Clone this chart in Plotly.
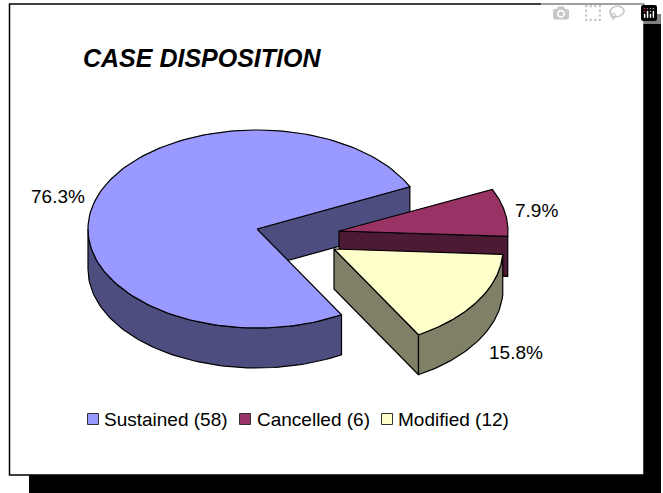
import numpy as np
import plotly.graph_objects as go

# data
categories = ["Sustained (58)", "Cancelled (6)", "Modified (12)"]
values = [58, 6, 12]
pct_labels = ["76.3%", "7.9%", "15.8%"]
top_colors = ["#9999FF", "#993366", "#FFFFCC"]
side_colors = ["#4D4D80", "#4D1A33", "#808066"]

# pie geometry, in page pixels
FIRST_ANGLE = 150   # clockwise from north
RX, RY, DEPTH = 169, 99, 40
centers = [(257, 229), (339, 231), (334, 249)]
label_pos = [(58, 196), (536, 210), (516, 352)]
legend_pos = [(93, 419), (245, 419), (387, 419)]
legend_text_x = [104, 257, 398]


def arc(cx, cy, a0, a1, n=80):
    t = np.radians(np.linspace(a0, a1, n))
    return cx + RX * np.sin(t), cy - RY * np.cos(t)


def poly(fig, xs, ys, color):
    fig.add_trace(go.Scatter(x=list(xs) + [xs[0]], y=list(ys) + [ys[0]], mode="lines", fill="toself",
                             fillcolor=color, line=dict(color="black", width=1.2),
                             hoverinfo="skip", showlegend=False))


def top_face(fig, i, a0, a1):
    cx, cy = centers[i]
    x, y = arc(cx, cy, a0, a1, 160)
    poly(fig, [cx] + list(x), [cy] + list(y), top_colors[i])


def cut_face(fig, i, a):
    cx, cy = centers[i]
    x, y = arc(cx, cy, a, a, 1)
    poly(fig, [cx, x[0], x[0], cx], [cy, y[0], y[0] + DEPTH, cy + DEPTH], side_colors[i])


def rim_face(fig, i, a0, a1):
    x, y = arc(*centers[i], a0, a1)
    poly(fig, list(x) + list(x[::-1]), list(y) + list(y[::-1] + DEPTH), side_colors[i])


# slice angles from the values
total = sum(values)
edges = [FIRST_ANGLE]
for v in values:
    edges.append(edges[-1] + v / total * 360)

fig = go.Figure()

# blue slice: rim from its start round to the left side, then the inner cut
rim_face(fig, 0, edges[0], 270)
cut_face(fig, 0, edges[1])
top_face(fig, 0, edges[0], edges[1])

# cancelled slice
cut_face(fig, 1, edges[2])
top_face(fig, 1, edges[1], edges[2])

# modified slice
cut_face(fig, 2, edges[3])
rim_face(fig, 2, edges[2], edges[3])
top_face(fig, 2, edges[2], edges[3])

# legend swatches
for i, name in enumerate(categories):
    fig.add_trace(go.Scatter(x=[legend_pos[i][0]], y=[legend_pos[i][1]], mode="markers", name=name,
                             marker=dict(symbol="square", size=11, color=top_colors[i],
                                         line=dict(color="#333333", width=1)),
                             hoverinfo="name", showlegend=False))
    fig.add_annotation(x=legend_text_x[i], y=legend_pos[i][1], text=name, showarrow=False, xanchor="left",
                       font=dict(family="Liberation Sans", size=19, color="black"), xshift=-2)

for lab, (x, y) in zip(pct_labels, label_pos):
    fig.add_annotation(x=x, y=y, text=lab, showarrow=False, font=dict(family="Liberation Sans", size=19, color="black"))

fig.add_annotation(x=83, y=58, text="<b><i>CASE DISPOSITION</i></b>", showarrow=False, xanchor="left", xshift=-2,
                   font=dict(family="Liberation Sans", size=25, color="black"))

# chart frame and its drop shadow
fig.add_shape(type="rect", x0=29, y0=14, x1=661, y1=493, fillcolor="black", line_width=0, layer="below")
fig.add_shape(type="rect", x0=9.5, y0=4, x1=644, y1=475, fillcolor="white",
              line=dict(color="black", width=1.5), layer="below")

fig.update_xaxes(range=[0, 663], visible=False, fixedrange=True)
fig.update_yaxes(range=[493, 0], visible=False, fixedrange=True)
fig.update_layout(width=663, height=493, margin=dict(l=0, r=0, t=0, b=0),
                  paper_bgcolor="white", plot_bgcolor="white", showlegend=False)

# the page's default body margin would push the chart 8px down and right
fig.write_html("out.html", post_script="document.body.style.margin='0';document.body.style.overflow='hidden';")
